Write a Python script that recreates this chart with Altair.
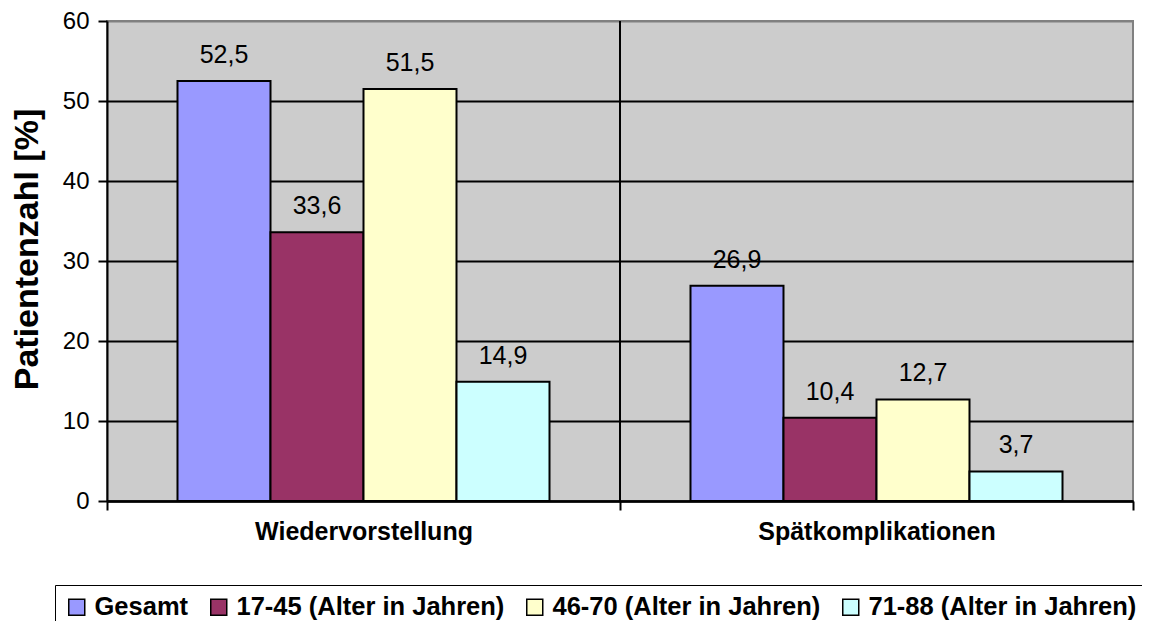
import altair as alt
import pandas as pd

categories = ["Wiedervorstellung", "Spätkomplikationen"]
series = ["Gesamt", "17-45 (Alter in Jahren)", "46-70 (Alter in Jahren)", "71-88 (Alter in Jahren)"]
wiedervorstellung = [52.5, 33.6, 51.5, 14.9]
spaetkomplikationen = [26.9, 10.4, 12.7, 3.7]
colors = ["#9999FF", "#993366", "#FFFFCC", "#CCFFFF"]
y_ticks = [0, 10, 20, 30, 40, 50, 60]

rows = []
for cat, vals in zip(categories, [wiedervorstellung, spaetkomplikationen]):
    for s, v in zip(series, vals):
        rows.append({"Kategorie": cat, "Gruppe": s, "Wert": v})
df = pd.DataFrame(rows)

FONT = "Liberation Sans"

x = alt.X(
    "Kategorie:N",
    sort=categories,
    scale=alt.Scale(paddingInner=0, paddingOuter=0),
    axis=alt.Axis(
        title=None,
        labelFont=FONT,
        labelFontSize=25,
        labelFontWeight="bold",
        labelColor="black",
        labelPadding=21,
        labelAngle=0,
        labelAlign="center",
        labelLimit=0,
        tickBand="extent",
        ticks=True,
        tickSize=9,
        tickColor="black",
        tickWidth=2,
        domainColor="black",
        domainWidth=2.5,
        grid=False,
    ),
)
xo = alt.XOffset(
    "Gruppe:N",
    sort=series,
    scale=alt.Scale(paddingInner=0, paddingOuter=0.758),
)
y = alt.Y(
    "Wert:Q",
    scale=alt.Scale(domain=[0, 60], nice=False),
    axis=alt.Axis(
        values=y_ticks,
        title="Patientenzahl [%]",
        titleFont=FONT,
        titleFontSize=34,
        titleFontWeight="bold",
        titleColor="black",
        titleAngle=270,
        titleAlign="center",
        titleBaseline="middle",
        titleX=-80,
        titleY=228,
        labelFont=FONT,
        labelFontSize=24,
        labelColor="black",
        labelPadding=9,
        tickSize=9,
        tickColor="black",
        tickWidth=2,
        domainColor="black",
        domainWidth=2,
        grid=True,
        gridColor=alt.condition("datum.value === 60", alt.value("#808080"), alt.value("black")),
        gridWidth=2,
    ),
)
color = alt.Color(
    "Gruppe:N",
    sort=series,
    scale=alt.Scale(domain=series, range=colors),
    legend=alt.Legend(
        title=None,
        orient="none",
        legendX=-52,
        legendY=564,
        direction="horizontal",
        symbolType="square",
        symbolSize=256,
        symbolStrokeColor="black",
        symbolStrokeWidth=1.5,
        symbolOpacity=1,
        labelFont=FONT,
        labelFontSize=25.5,
        labelFontWeight="bold",
        labelColor="black",
        labelLimit=0,
        labelOffset=5,
        columnPadding=17,
        strokeColor="black",
        padding=9,
    ),
)

sep = alt.Chart(pd.DataFrame({"Kategorie": [categories[1]]})).mark_rule(
    color="black", strokeWidth=2
).encode(
    x=alt.X("Kategorie:N", sort=categories, bandPosition=0),
    y=alt.datum(0),
    y2=alt.datum(60),
)

bars = alt.Chart(df).mark_bar(stroke="black", strokeWidth=2, opacity=1).encode(
    x=x, xOffset=xo, y=y, color=color
)

labels = alt.Chart(df).transform_calculate(
    txt="replace(format(datum.Wert, '.1f'), '.', ',')"
).mark_text(
    dy=-26, fontSize=25, font=FONT, color="black", baseline="middle", align="center"
).encode(
    x=alt.X("Kategorie:N", sort=categories),
    xOffset=xo,
    y="Wert:Q",
    text="txt:N",
)

chart = alt.layer(sep, bars, labels).properties(
    width=1026,
    height=480,
    autosize=alt.AutoSizeParams(type="none"),
    padding={"left": 99, "top": 13, "right": 9, "bottom": 120},
    background="white",
).configure_view(
    fill="#CCCCCC", stroke="#808080", strokeWidth=2
)

chart.save("out.html", embed_options={"renderer": "svg", "actions": False})
